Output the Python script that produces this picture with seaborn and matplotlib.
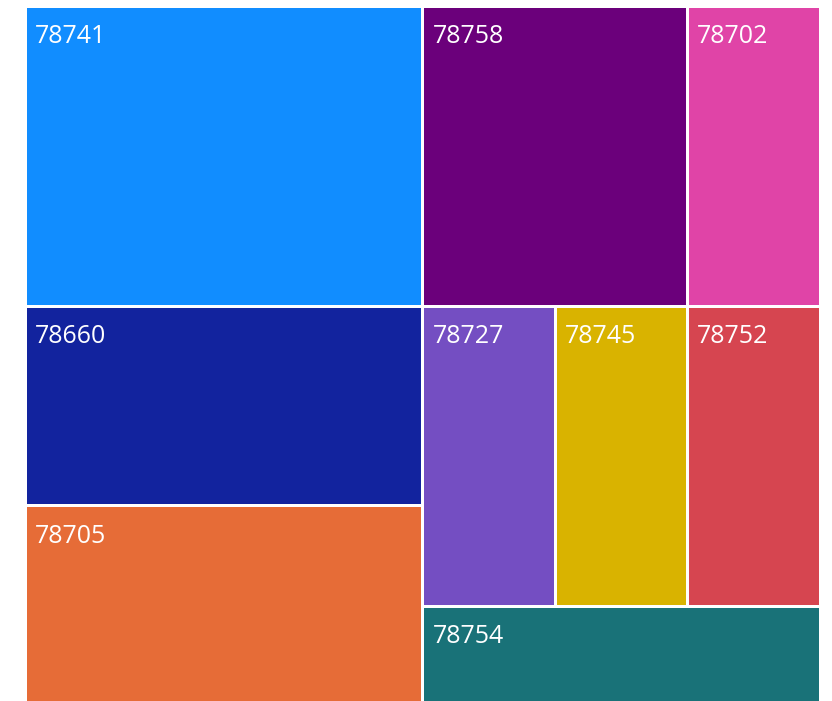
import matplotlib
matplotlib.use("Agg")
import matplotlib.pyplot as plt
import matplotlib.transforms as mtransforms
from matplotlib.patches import Rectangle
import seaborn as sns


# zip codes and their counts (sorted largest first)
zip_codes = ['78741', '78660', '78705', '78758', '78702', '78727', '78745', '78752', '78754']
counts = [3, 2, 2, 2, 1, 1, 1, 1, 1]

# Power BI default theme colours, one per zip code
palette = ['#118DFF', '#12239E', '#E66C37', '#6B007B', '#E044A7',
           '#744EC2', '#D9B300', '#D64550', '#197278']

# grouping used by the slice-and-dice layout (columns -> rows -> tiles)
groups = [
    [['78741'], ['78660'], ['78705']],
    [['78758', '78702'], ['78727', '78745', '78752'], ['78754']],
]

value_of = dict(zip(zip_codes, counts))
color_of = dict(zip(zip_codes, palette))


def node_total(node):
    if isinstance(node, str):
        return value_of[node]
    return sum(node_total(n) for n in node)


def slice_dice(node, x0, y0, x1, y1, depth, out):
    """Split the box along x on even depths and along y on odd depths."""
    if isinstance(node, str):
        out.append((node, x0, y0, x1, y1))
        return
    total = node_total(node)
    pos = x0 if depth % 2 == 0 else y0
    for child in node:
        share = node_total(child) / total
        if depth % 2 == 0:
            step = (x1 - x0) * share
            slice_dice(child, pos, y0, pos + step, y1, depth + 1, out)
        else:
            step = (y1 - y0) * share
            slice_dice(child, x0, pos, x1, pos + step, depth + 1, out)
        pos += step


sns.set_theme(style='white')
plt.rcParams['font.family'] = ['Open Sans', 'DejaVu Sans']

fig = plt.figure(figsize=(8.32, 7.01), dpi=100)
ax = fig.add_axes([25.2 / 832, (701 - 705.5) / 701, 794.6 / 832, 700 / 701])

tiles = []
slice_dice(groups, 0, 0, 1, 1, 0, tiles)

label_tf = mtransforms.offset_copy(ax.transData, fig=fig, x=10, y=-37.3, units='dots')
for name, x0, y0, x1, y1 in tiles:
    ax.add_patch(Rectangle((x0, y0), x1 - x0, y1 - y0,
                           facecolor=color_of[name], edgecolor='white', linewidth=2.16))
    ax.text(x0, y0, name, transform=label_tf, color='white', fontsize=18,
            ha='left', va='baseline')

ax.set_xlim(0, 1)
ax.set_ylim(1, 0)
ax.axis('off')

plt.savefig('out.png', dpi=100)
